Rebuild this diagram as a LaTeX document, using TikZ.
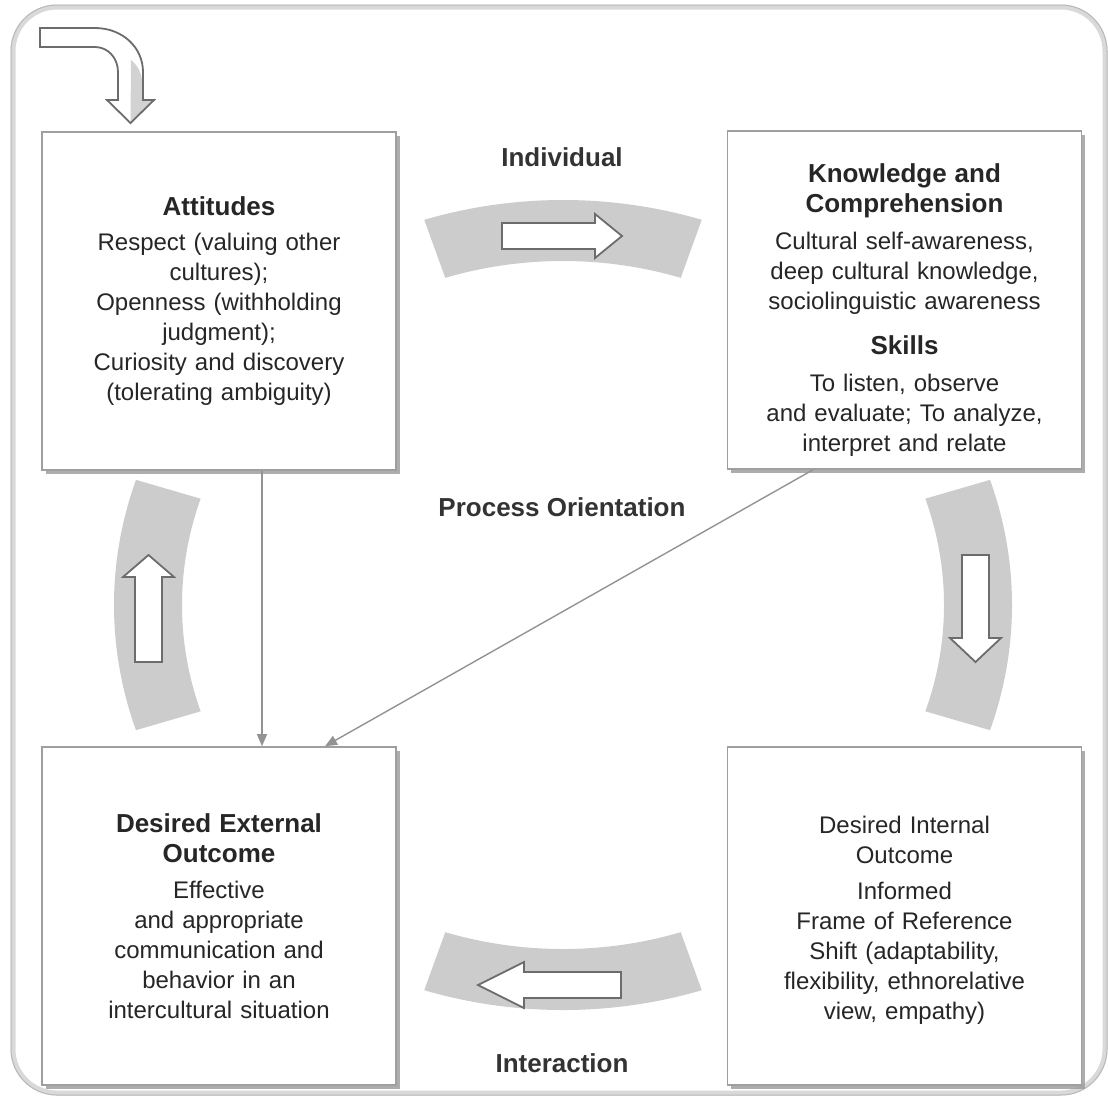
\documentclass[tikz,border=0pt]{standalone}
\usepackage{fontspec}
\setmainfont{Liberation Sans}
\usetikzlibrary{arrows.meta, shadows}
\newcommand{\boxtitle}[1]{{\fontsize{13}{15}\selectfont\bfseries #1}}

\begin{document}
\begin{tikzpicture}[
	x=0.5pt, y=-0.5pt,
	box/.style = {draw=gray!75, fill=white, line width=0.8pt, minimum width=177pt, minimum height=169pt, text width=170pt, align=center, text=black!85, font=\fontsize{12}{15}\selectfont, drop shadow={shadow xshift=1.8pt, shadow yshift=-1.8pt, fill=gray!80, opacity=0.8}},
	lbl/.style = {text=black!80, font=\fontsize{13}{15}\selectfont\bfseries},
	band/.style = {fill=gray!40},
	barrow/.style = {draw=gray!85!black, fill=white, line width=0.9pt, line join=miter},
	frame/.style = {draw=gray!30, line width=2.5pt, rounded corners=22pt},
	r/.style = {-{Triangle[length=6pt, width=5pt]}, draw=gray!85, line width=0.7pt}
	]
	\useasboundingbox[fill=white] (0,0) rectangle (1108,1099);
	
	%Frame
	\draw[frame] (13,7) rectangle (1105,1093);
	\draw[draw=gray!55, line width=0.5pt, rounded corners=23pt] (11,5) rectangle (1107,1095);
	
	%Bands
	\fill[band] (563,605) ++(252:449 and 405) arc[start angle=252, end angle=288, x radius=449, y radius=405] -- ++(288:-68 and -61) arc[start angle=288, end angle=252, x radius=381, y radius=344] -- cycle;
	\fill[band] (563,605) ++(72:449 and 405) arc[start angle=72, end angle=108, x radius=449, y radius=405] -- ++(108:-68 and -61) arc[start angle=108, end angle=72, x radius=381, y radius=344] -- cycle;
	\fill[band] (563,605) ++(162:449 and 405) arc[start angle=162, end angle=198, x radius=449, y radius=405] -- ++(198:-68 and -61) arc[start angle=198, end angle=162, x radius=381, y radius=344] -- cycle;
	\fill[band] (563,605) ++(-18:449 and 405) arc[start angle=-18, end angle=18, x radius=449, y radius=405] -- ++(18:-68 and -61) arc[start angle=18, end angle=-18, x radius=381, y radius=344] -- cycle;
	
	%Arrows
	\draw[barrow] (502,223) -- (595,223) -- (595,214) -- (622,236) -- (595,258) -- (595,249) -- (502,249) -- cycle;
	\draw[barrow] (621,972) -- (524,972) -- (524,962) -- (478,985) -- (524,1008) -- (524,998) -- (621,998) -- cycle;
	\draw[barrow] (135,662) -- (135,577) -- (123,577) -- (148.5,555) -- (174,577) -- (162,577) -- (162,662) -- cycle;
	\draw[barrow] (962,555) -- (962,638) -- (950,638) -- (975.5,662) -- (1001,638) -- (989,638) -- (989,555) -- cycle;
	
	\fill[gray!35] (131,60) .. controls (138,66) and (141,72) .. (142,80) -- (142,101) -- (152,101) -- (130.5,122) -- cycle;
	\draw[barrow, fill=none] (40,28) -- (95,28) .. controls (122,28) and (143,47) .. (143,72) -- (143,100) -- (154,100) -- (130.5,123) -- (107,100) -- (118,100) -- (118,72) .. controls (118,58) and (108,47) .. (95,47) -- (40,47) -- cycle;
	
	%Nodes
	\node[box]	(att)	at	(219,301)	{\boxtitle{Attitudes}\\[2.5pt]
		Respect (valuing other\\ cultures);\\ Openness (withholding\\ judgment);\\ Curiosity and discovery\\ (tolerating ambiguity)};
	\node[box]	(know)	at	(904.5,300)	{\mbox{}\\[4pt]\boxtitle{Knowledge and}\\ \boxtitle{Comprehension}\\[3.5pt]
		Cultural self-awareness,\\ deep cultural knowledge,\\ sociolinguistic awareness\\[7.5pt]
		\boxtitle{Skills}\\[3.5pt]
		To listen, observe\\ and evaluate; To analyze,\\ interpret and relate};
	\node[box]	(ext)	at	(219,916)	{\boxtitle{Desired External}\\ \boxtitle{Outcome}\\[3pt]
		Effective\\ and appropriate\\ communication and\\ behavior in an\\ intercultural situation};
	\node[box]	(int)	at	(904.5,916)	{\mbox{}\\[-2pt]Desired Internal\\ Outcome\\[3pt]
		Informed\\ Frame of Reference\\ Shift (adaptability,\\ flexibility, ethnorelative\\ view, empathy)};
	
	\node[lbl]	(ind)	at	(562,157)	{Individual};
	\node[lbl]	(proc)	at	(562,507)	{Process Orientation};
	\node[lbl]	(inter)	at	(562,1063)	{Interaction};
	
	%Lines
	\draw[r]	([xshift=21.5pt]att.south)	--	([xshift=21.5pt]ext.north);
	\draw[r]	([xshift=-45.75pt]know.south)	--	([xshift=53pt]ext.north);
\end{tikzpicture}
\end{document}
